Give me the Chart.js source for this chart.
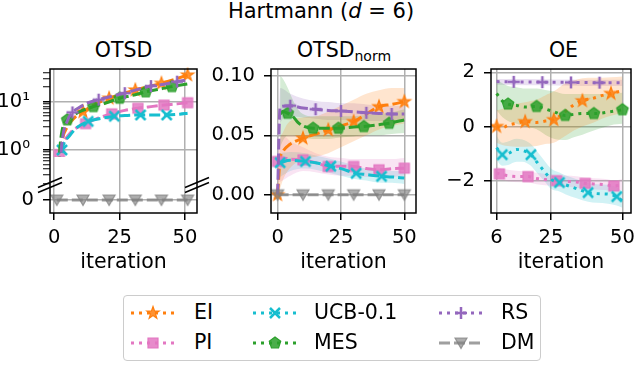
<!DOCTYPE html>
<html>
<head>
<meta charset="utf-8">
<script src="https://cdn.jsdelivr.net/npm/chart.js@4.4.1/dist/chart.umd.min.js"></script>
<style>
body { margin: 0; background: #fff; font-family: "DejaVu Sans"; }
#fig { position: relative; width: 640px; height: 365px; overflow: hidden; background: #fff; }
#fig canvas { position: absolute; }
.tt { position: absolute; transform: translateX(-50%); font-size: 20.5px; line-height: 20.5px; white-space: nowrap; color: #000; }
.tt sub { font-size: 14px; line-height: 0; vertical-align: -4px; }
#legend { position: absolute; left: 123px; top: 295px; width: 416px; height: 64px; border: 1.5px solid #cccccc; border-radius: 4px; background: #fff; }
.lt { position: absolute; font-size: 20.5px; line-height: 20.5px; white-space: nowrap; color: #000; }
</style>
</head>
<body>
<div id="fig">
  <div class="tt" style="left:321px;top:1px;font-size:21px;line-height:21px">Hartmann (<i>d</i> = 6)</div>
  <div class="tt" style="left:123.5px;top:39.5px">OTSD</div>
  <div class="tt" style="left:344px;top:39.5px">OTSD<sub>norm</sub></div>
  <div class="tt" style="left:563.5px;top:39.5px">OE</div>
  <div id="legend"></div>
  <canvas id="p1" width="212" height="215" style="left:0;top:60px"></canvas>
  <canvas id="p2" width="225" height="215" style="left:200px;top:60px"></canvas>
  <canvas id="p3" width="220" height="215" style="left:420px;top:60px"></canvas>
</div>
<script>
// ---- series names / colours ----
const names = ['EI', 'PI', 'UCB-0.1', 'MES', 'RS', 'DM'];
const rgbs = ['255,127,14', '227,119,194', '23,190,207', '44,160,44', '148,103,189', '127,127,127'];
const markerKinds = ['star', 'square', 'x', 'pentagon', 'plus', 'tri'];

// ---- tick values ----
const iterTicks = [0, 25, 50];
const oeIterTicks = [6, 25, 50];
const otsdLogTicks = [0.2, 0.3, 0.4, 0.5, 0.6, 0.7, 0.8, 0.9, 1, 2, 3, 4, 5, 6, 7, 8, 9, 10, 20, 30, 40];
const normTicks = [0, 0.05, 0.1];
const oeTicks = [-2, 0, 2];

// ---- OTSD (log panel + zero panel) ----
const otsdEIx = [1, 2, 3, 5, 8, 11, 16, 21, 26, 31, 36, 41, 46, 51];
const otsdEI = [0.05, 0.5, 1.5, 3.0, 4.8, 6.2, 9.0, 11.8, 14.5, 17.5, 20.5, 24, 29, 35.6];
const otsdEImk = [11, 21, 31, 41, 51];
const otsdPIx = [1, 2, 4, 7, 12, 17, 22, 27, 32, 37, 42, 47, 51];
const otsdPI = [0.05, 0.8, 1.6, 2.5, 3.5, 4.6, 5.6, 6.6, 7.3, 7.9, 8.5, 9.0, 9.5];
const otsdPImk = [2, 12, 22, 32, 42, 51];
const otsdUCBx = [1, 2, 3, 6, 9, 13, 18, 23, 28, 33, 38, 43, 48, 51];
const otsdUCB = [0.05, 0.4, 1.0, 2.0, 3.0, 3.9, 4.5, 5.0, 5.2, 5.3, 5.3, 5.3, 5.5, 5.75];
const otsdUCBmk = [3, 13, 23, 33, 43];
const otsdMESx = [1, 2, 3, 5, 8, 10, 15, 20, 25, 30, 35, 40, 45, 51];
const otsdMES = [0.05, 0.8, 2.5, 4.2, 5.5, 6.3, 7.9, 9.5, 11.8, 13.5, 16, 18, 20.5, 23.3];
const otsdMESmk = [5, 15, 25, 35, 45];
const otsdRSx = [1, 2, 3, 5, 7, 10, 13, 17, 22, 27, 32, 37, 42, 47, 51];
const otsdRS = [0.05, 0.3, 1.5, 4.0, 6.0, 7.8, 9.5, 11, 13, 15, 18, 21, 23, 26, 28];
const otsdRSmk = [7, 17, 27, 37, 47];
const otsdDMx = [1, 11, 21, 31, 41, 51];
const otsdDM = [0, 0, 0, 0, 0, 0];

// ---- OTSD_norm ----
const normEIx = [0, 1, 2, 4, 10, 15, 20, 25, 30, 35, 40, 45, 50];
const normEI = [0, 0.03, 0.036, 0.041, 0.0476, 0.051, 0.0546, 0.058, 0.0616, 0.068, 0.0742, 0.076, 0.0784];
const normEIlo = [0, 0.005, 0.012, 0.02, 0.03, 0.032, 0.035, 0.04, 0.045, 0.05, 0.055, 0.058, 0.06];
const normEIhi = [0, 0.045, 0.052, 0.06, 0.065, 0.066, 0.07, 0.075, 0.08, 0.085, 0.088, 0.09, 0.09];
const normEImk = [0, 10, 20, 30, 40, 50];
const normPIx = [0, 2, 5, 10, 15, 20, 25, 30, 35, 40, 45, 50];
const normPI = [0.028, 0.031, 0.03, 0.0294, 0.027, 0.0238, 0.024, 0.0238, 0.022, 0.021, 0.022, 0.0224];
const normPIlo = [0.01, 0.012, 0.016, 0.02, 0.019, 0.017, 0.016, 0.016, 0.015, 0.015, 0.015, 0.016];
const normPIhi = [0.045, 0.05, 0.045, 0.04, 0.035, 0.032, 0.031, 0.03, 0.03, 0.03, 0.03, 0.031];
const normPImk = [0, 10, 20, 30, 40, 50];
const normUCBx = [1, 5, 11, 15, 21, 25, 31, 35, 41, 45, 50];
const normUCB = [0.027, 0.029, 0.028, 0.027, 0.024, 0.022, 0.018, 0.017, 0.0155, 0.015, 0.014];
const normUCBlo = [0.015, 0.02, 0.022, 0.021, 0.018, 0.016, 0.013, 0.012, 0.01, 0.01, 0.009];
const normUCBhi = [0.035, 0.036, 0.035, 0.033, 0.03, 0.028, 0.024, 0.022, 0.021, 0.02, 0.02];
const normUCBmk = [1, 11, 21, 31, 41];
const normMESx = [1, 2, 4, 6, 8, 10, 14, 20, 24, 30, 34, 40, 44, 50];
const normMES = [0.068, 0.07, 0.0686, 0.066, 0.061, 0.058, 0.056, 0.056, 0.056, 0.057, 0.0574, 0.059, 0.0602, 0.063];
const normMESlo = [0.04, 0.045, 0.05, 0.05, 0.049, 0.048, 0.047, 0.047, 0.048, 0.049, 0.05, 0.05, 0.051, 0.052];
const normMEShi = [0.1, 0.098, 0.09, 0.08, 0.072, 0.068, 0.066, 0.066, 0.066, 0.066, 0.067, 0.068, 0.069, 0.072];
const normMESmk = [4, 14, 24, 34, 44];
const normRSx = [0, 1, 5, 10, 15, 20, 25, 30, 35, 40, 45, 50];
const normRS = [0, 0.074, 0.075, 0.073, 0.072, 0.071, 0.0705, 0.0698, 0.069, 0.0685, 0.068, 0.068];
const normRSlo = [0, 0.06, 0.066, 0.065, 0.064, 0.063, 0.063, 0.063, 0.062, 0.062, 0.062, 0.062];
const normRShi = [0, 0.09, 0.085, 0.081, 0.079, 0.078, 0.077, 0.077, 0.076, 0.075, 0.075, 0.075];
const normRSmk = [5, 15, 25, 35, 45];
const normDMx = [0, 10, 20, 30, 40, 50];
const normDM = [0, 0, 0, 0, 0, 0];

// ---- OE ----
const oeEIx = [6, 8, 10, 13, 16, 20, 23, 26, 30, 33, 36, 40, 43, 46, 50];
const oeEI = [0.0, -0.05, 0.05, 0.12, 0.18, 0.15, 0.2, 0.25, 0.55, 0.8, 0.95, 1.05, 1.15, 1.22, 1.32];
const oeEIlo = [-0.6, -0.68, -0.72, -0.75, -0.75, -0.72, -0.65, -0.6, -0.35, -0.15, 0.0, 0.15, 0.3, 0.4, 0.5];
const oeEIhi = [0.6, 0.65, 0.75, 0.85, 0.9, 1.0, 1.15, 1.3, 1.6, 1.7, 1.78, 1.8, 1.8, 1.82, 1.85];
const oeEImk = [6, 16, 26, 36, 46];
const oePIx = [6, 7, 10, 14, 17, 20, 24, 27, 30, 34, 37, 40, 44, 47, 50];
const oePI = [-1.72, -1.75, -1.82, -1.85, -1.85, -1.92, -1.97, -2.0, -2.02, -2.05, -2.1, -2.12, -2.15, -2.2, -2.15];
const oePIlo = [-1.95, -1.97, -2.03, -2.06, -2.07, -2.13, -2.18, -2.21, -2.23, -2.26, -2.3, -2.32, -2.35, -2.38, -2.35];
const oePIhi = [-1.5, -1.52, -1.6, -1.64, -1.64, -1.71, -1.76, -1.79, -1.81, -1.84, -1.89, -1.91, -1.94, -1.99, -1.95];
const oePImk = [7, 17, 27, 37, 47];
const oeUCBx = [6, 8, 10, 13, 15, 18, 20, 23, 25, 28, 30, 34, 38, 41, 45, 48, 50];
const oeUCB = [-0.78, -1.04, -1.0, -0.85, -0.88, -1.04, -1.3, -1.7, -1.95, -2.07, -2.15, -2.3, -2.44, -2.48, -2.5, -2.59, -2.75];
const oeUCBlo = [-1.25, -1.45, -1.42, -1.3, -1.3, -1.45, -1.7, -2.05, -2.3, -2.4, -2.5, -2.65, -2.78, -2.82, -2.85, -2.92, -3.0];
const oeUCBhi = [-0.35, -0.6, -0.55, -0.45, -0.48, -0.65, -0.9, -1.3, -1.55, -1.7, -1.8, -1.95, -2.1, -2.13, -2.15, -2.25, -2.4];
const oeUCBmk = [8, 18, 28, 38, 48];
const oeMESx = [6, 8, 10, 13, 16, 20, 23, 26, 30, 33, 36, 40, 43, 46, 50];
const oeMES = [1.22, 0.95, 0.83, 0.78, 0.72, 0.74, 0.65, 0.55, 0.41, 0.45, 0.48, 0.48, 0.5, 0.55, 0.62];
const oeMESlo = [0.6, 0.35, 0.2, 0.1, 0.0, -0.1, -0.3, -0.45, -0.5, -0.4, -0.3, -0.15, -0.05, 0.05, 0.1];
const oeMEShi = [1.75, 1.6, 1.5, 1.45, 1.4, 1.4, 1.35, 1.3, 1.2, 1.2, 1.2, 1.2, 1.2, 1.22, 1.25];
const oeMESmk = [10, 20, 30, 40, 50];
const oeRSx = [6, 12, 22, 32, 42, 50];
const oeRS = [1.66, 1.65, 1.64, 1.63, 1.62, 1.62];
const oeRSlo = [1.54, 1.53, 1.52, 1.51, 1.5, 1.5];
const oeRShi = [1.76, 1.76, 1.75, 1.74, 1.73, 1.73];
const oeRSmk = [12, 22, 32, 42];

Chart.defaults.font.family = 'DejaVu Sans';
Chart.defaults.color = '#000';

const tickFont = { family: 'DejaVu Sans', size: 19.5 };
const labelFont = { family: 'DejaVu Sans', size: 20.5 };
const GRID = '#b0b0b0';

// line alpha per series (DM is drawn a bit faded, like the reference)
const lineAlpha = [1, 1, 1, 1, 1, 0.75];

function makeMarker(kind, rgb, alpha) {
    const c = document.createElement('canvas');
    c.width = 18;
    c.height = 18;
    const g = c.getContext('2d');
    g.translate(9, 9);
    g.fillStyle = `rgba(${rgb},${0.85 * alpha})`;
    g.strokeStyle = `rgba(${rgb},${alpha})`;
    g.lineWidth = 1.2;
    g.beginPath();
    if (kind === 'x' || kind === 'plus') {
        g.lineWidth = 2.5;
        if (kind === 'x') {
            g.moveTo(-5, -5); g.lineTo(5, 5);
            g.moveTo(-5, 5); g.lineTo(5, -5);
        } else {
            g.moveTo(-6, 0); g.lineTo(6, 0);
            g.moveTo(0, -6); g.lineTo(0, 6);
        }
        g.stroke();
        return c;
    }
    if (kind === 'star') {
        for (let k = 0; k < 10; k++) {
            const r = k % 2 ? 2.6 : 6.5, a = -Math.PI / 2 + k * Math.PI / 5;
            g.lineTo(r * Math.cos(a), r * Math.sin(a));
        }
    } else if (kind === 'square') {
        g.rect(-5, -5, 10, 10);
    } else if (kind === 'pentagon') {
        for (let k = 0; k < 5; k++) {
            const a = -Math.PI / 2 + k * 2 * Math.PI / 5;
            g.lineTo(6 * Math.cos(a), 6 * Math.sin(a));
        }
    } else if (kind === 'tri') {
        g.moveTo(0, 5.5); g.lineTo(-6, -5); g.lineTo(6, -5);
    }
    g.closePath();
    g.fill();
    g.stroke();
    return c;
}
const markers = markerKinds.map((k, i) => makeMarker(k, rgbs[i], lineAlpha[i]));

const pts = (xs, ys) => xs.map((x, i) => ({ x: x, y: ys[i] }));

// series rows: [xs, ys, markerXs, lo, hi]
function buildSets(series, dash, yIds, clip) {
    const sets = [];
    series.forEach((s, i) => {
        if (!s) return;
        const [xs, ys, mk, lo, hi] = s;
        const yID = yIds[i];
        if (lo) {
            sets.push({ data: pts(xs, lo), borderWidth: 0, pointRadius: 0, fill: false, order: 20,
                yAxisID: yID, cubicInterpolationMode: 'monotone' });
            sets.push({ data: pts(xs, hi), borderWidth: 0, pointRadius: 0, fill: '-1', order: 20,
                backgroundColor: `rgba(${rgbs[i]},0.2)`, yAxisID: yID, cubicInterpolationMode: 'monotone' });
        }
        const ds = {
            data: pts(xs, ys),
            borderColor: `rgba(${rgbs[i]},${lineAlpha[i]})`,
            borderWidth: 3,
            borderDash: i === 5 ? [11, 4] : dash,
            borderCapStyle: 'butt',
            pointStyle: markers[i],
            pointRadius: c => (c.raw && mk.includes(c.raw.x)) ? 6 : 0,
            pointHoverRadius: 0,
            fill: false,
            order: 10 - i,
            yAxisID: yID,
            cubicInterpolationMode: 'monotone'
        };
        if (clip && i !== 5) ds.clip = clip;
        sets.push(ds);
    });
    return sets;
}

// fixed axis sizes so the plot boxes land where the reference has them
const fitX = s => { s.height = 62; s.paddingLeft = 0; s.paddingRight = 0; };
const fitY = w => s => { s.width = w; s.paddingTop = 0; s.paddingBottom = 0; };

function xAxis(min, max, ticks) {
    return {
        type: 'linear', min: min, max: max,
        afterBuildTicks: s => { s.ticks = ticks.map(v => ({ value: v })); },
        afterFit: fitX,
        border: { display: false },
        grid: { color: GRID, lineWidth: 1.5, tickColor: '#000', tickLength: 7, tickWidth: 1.5 },
        ticks: { font: tickFont, color: '#000', padding: 6, maxRotation: 0, autoSkip: false, callback: v => String(v) },
        title: { display: true, text: 'iteration', font: labelFont, color: '#000', padding: 0 }
    };
}

function yAxis(min, max, ticks, width, fmt, extra) {
    return Object.assign({
        type: 'linear', position: 'left', min: min, max: max,
        afterBuildTicks: s => { s.ticks = ticks.map(v => ({ value: v })); },
        afterFit: fitY(width),
        border: { display: false },
        grid: { color: GRID, lineWidth: 1.5, tickColor: '#000', tickLength: 7, tickWidth: 1.5 },
        ticks: { font: tickFont, color: '#000', padding: 9, autoSkip: false, callback: fmt }
    }, extra || {});
}

const frame = {
    id: 'frame',
    afterDatasetsDraw(chart) {
        const { ctx, chartArea: a } = chart;
        ctx.save();
        ctx.strokeStyle = '#000';
        ctx.lineWidth = 1.5;
        ctx.strokeRect(a.left, a.top, a.right - a.left, a.bottom - a.top);
        ctx.restore();
    }
};

const breakMarks = {
    id: 'breakMarks',
    afterDraw(chart) {
        const { ctx, chartArea: a } = chart;
        const yb = Math.max(chart.scales.y.top, chart.scales.y2.top);
        ctx.save();
        ctx.strokeStyle = '#000';
        ctx.lineWidth = 1.5;
        [a.left, a.right].forEach(x => {
            [-2.5, 2.5].forEach(o => {
                ctx.beginPath();
                ctx.moveTo(x - 12, yb + o + 5);
                ctx.lineTo(x + 12, yb + o - 5);
                ctx.stroke();
            });
        });
        ctx.restore();
    }
};

const baseOptions = (scales, pad) => ({
    responsive: false,
    animation: false,
    events: [],
    layout: { padding: pad },
    plugins: { legend: { display: false }, tooltip: { enabled: false } },
    scales: scales
});

// ---- plot 1: OTSD, broken axis ----
const otsdSeries = [
    [otsdEIx, otsdEI, otsdEImk],
    [otsdPIx, otsdPI, otsdPImk],
    [otsdUCBx, otsdUCB, otsdUCBmk],
    [otsdMESx, otsdMES, otsdMESmk],
    [otsdRSx, otsdRS, otsdRSmk],
    [otsdDMx, otsdDM, otsdDMx]
];
new Chart(document.getElementById('p1'), {
    type: 'line',
    data: { datasets: buildSets(otsdSeries, [11, 4], ['y', 'y', 'y', 'y', 'y', 'y2'], { left: 0, top: 8, right: 8, bottom: -28 }) },
    options: baseOptions({
        x: xAxis(-1.6, 54.6, iterTicks),
        // lower panel listed first so the log panel stacks above it
        y2: yAxis(-1, 1.15, [0], 50, v => String(v), { stack: 'otsd', stackWeight: 28 }),
        y: {
            type: 'logarithmic', position: 'left', stack: 'otsd', stackWeight: 116, min: 0.188, max: 47.5,
            afterBuildTicks: s => { s.ticks = otsdLogTicks.map(v => ({ value: v })); },
            afterFit: fitY(50),
            border: { display: false },
            grid: {
                color: c => (c.tick && (c.tick.value === 1 || c.tick.value === 10)) ? GRID : 'rgba(0,0,0,0)',
                lineWidth: 1.5, tickColor: '#000', tickLength: 7,
                tickWidth: c => (c.tick && (c.tick.value === 1 || c.tick.value === 10)) ? 1.5 : 1
            },
            ticks: { font: tickFont, color: '#000', padding: 13, autoSkip: false,
                callback: v => v === 1 ? '10\u2070' : (v === 10 ? '10\u00b9' : '') }
        }
    }, { top: 9, right: 15, left: 0, bottom: 0 }),
    plugins: [frame, breakMarks]
});

// ---- plot 2: OTSD_norm ----
const normSeries = [
    [normEIx, normEI, normEImk, normEIlo, normEIhi],
    [normPIx, normPI, normPImk, normPIlo, normPIhi],
    [normUCBx, normUCB, normUCBmk, normUCBlo, normUCBhi],
    [normMESx, normMES, normMESmk, normMESlo, normMEShi],
    [normRSx, normRS, normRSmk, normRSlo, normRShi],
    [normDMx, normDM, normDMx]
];
new Chart(document.getElementById('p2'), {
    type: 'line',
    data: { datasets: buildSets(normSeries, [11, 4], ['y', 'y', 'y', 'y', 'y', 'y']) },
    options: baseOptions({
        x: xAxis(-2.6, 54.6, iterTicks),
        y: yAxis(-0.0154, 0.1059, normTicks, 71, v => v.toFixed(2))
    }, { top: 9, right: 8, left: 0, bottom: 0 }),
    plugins: [frame]
});

// ---- plot 3: OE ----
const oeSeries = [
    [oeEIx, oeEI, oeEImk, oeEIlo, oeEIhi],
    [oePIx, oePI, oePImk, oePIlo, oePIhi],
    [oeUCBx, oeUCB, oeUCBmk, oeUCBlo, oeUCBhi],
    [oeMESx, oeMES, oeMESmk, oeMESlo, oeMEShi],
    [oeRSx, oeRS, oeRSmk, oeRSlo, oeRShi],
    null
];
new Chart(document.getElementById('p3'), {
    type: 'line',
    data: { datasets: buildSets(oeSeries, [3, 5], ['y', 'y', 'y', 'y', 'y', 'y']) },
    options: baseOptions({
        x: xAxis(4.05, 53, oeIterTicks),
        y: yAxis(-3.196, 2.125, oeTicks, 71, v => v < 0 ? '\u2212' + Math.abs(v) : String(v))
    }, { top: 9, right: 5, left: 0, bottom: 0 }),
    plugins: [frame]
});

// ---- legend (html, handles drawn like the plot markers) ----
const legHandleX = [131, 253, 439];
const legTextX = [194, 314, 501];
const legRowY = [313, 343];
const fig = document.getElementById('fig');
names.forEach((name, i) => {
    const col = Math.floor(i / 2), row = i % 2;
    const h = document.createElement('canvas');
    h.width = 44;
    h.height = 20;
    h.style.left = legHandleX[col] + 'px';
    h.style.top = (legRowY[row] - 10) + 'px';
    const g = h.getContext('2d');
    g.strokeStyle = `rgba(${rgbs[i]},${lineAlpha[i]})`;
    g.lineWidth = 3;
    g.setLineDash(i === 5 ? [11, 4] : [3, 5]);
    g.beginPath();
    g.moveTo(0, 10);
    g.lineTo(44, 10);
    g.stroke();
    g.drawImage(markers[i], 22 - 9, 10 - 9);
    fig.appendChild(h);

    const t = document.createElement('div');
    t.className = 'lt';
    t.textContent = name;
    t.style.left = legTextX[col] + 'px';
    t.style.top = (legRowY[row] - 11) + 'px';
    fig.appendChild(t);
});
</script>
</body>
</html>
